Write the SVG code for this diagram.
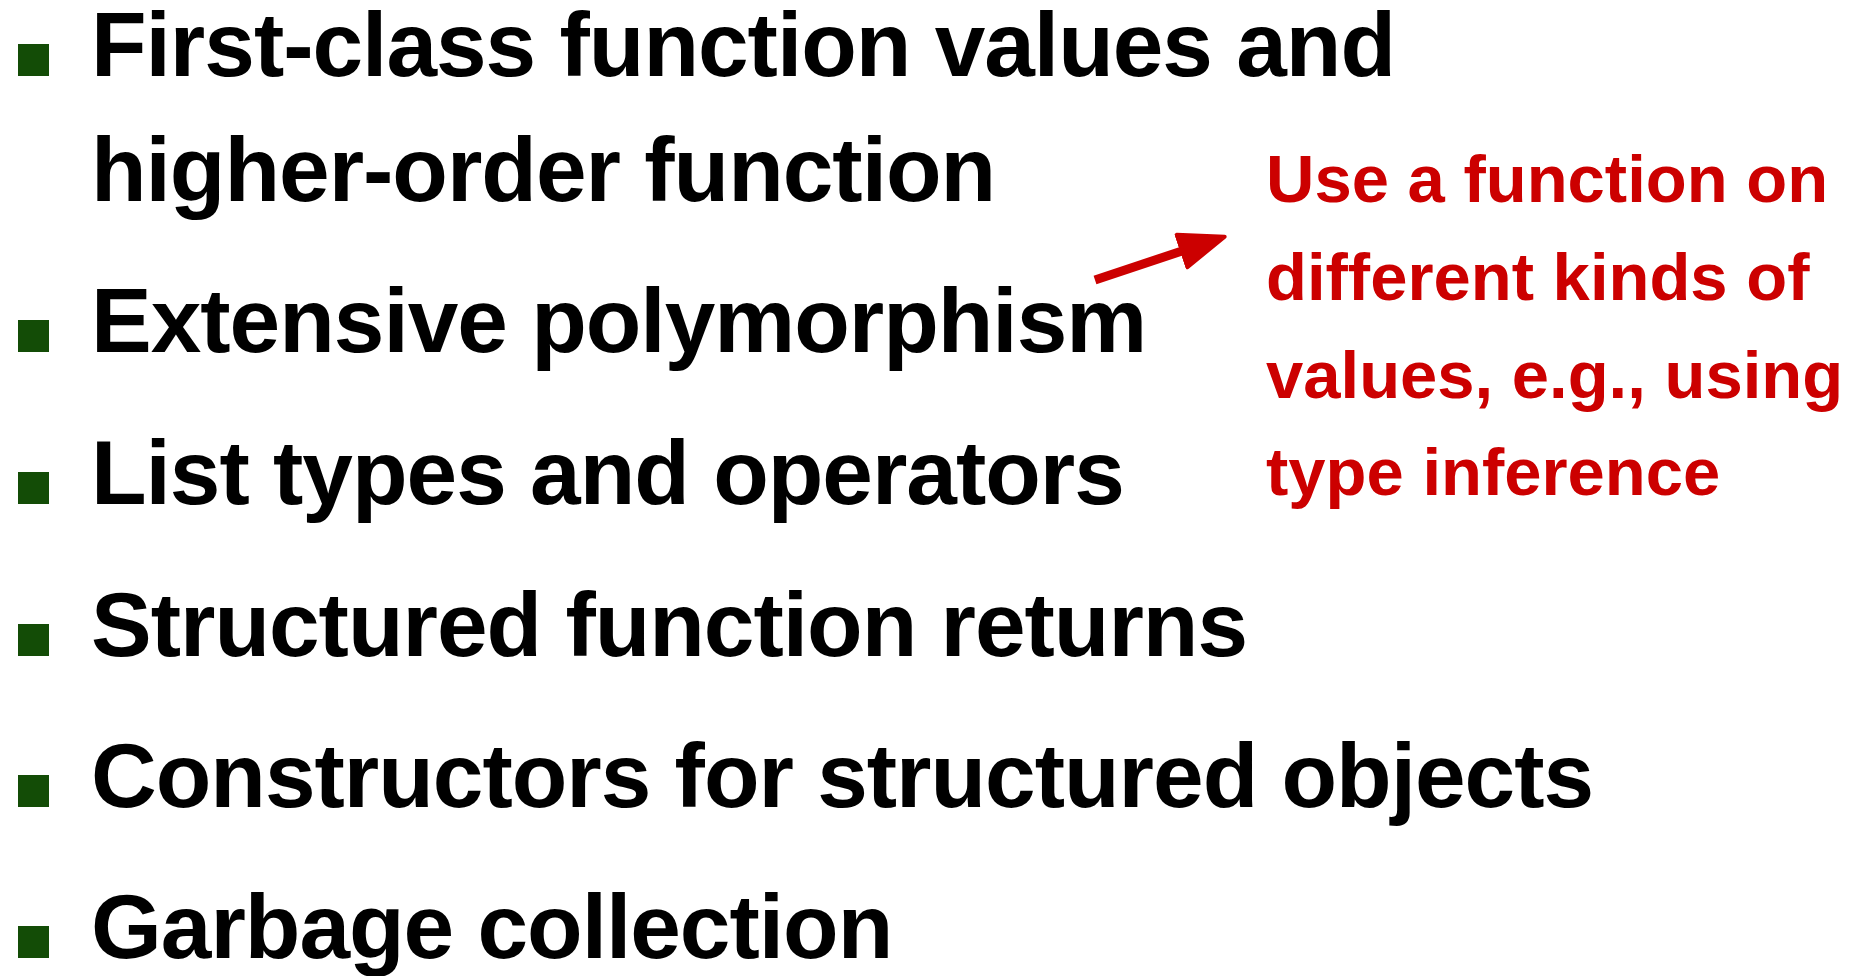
<svg xmlns="http://www.w3.org/2000/svg" width="1859" height="976" viewBox="0 0 1859 976">
  <style>
    .item { font-family: "Liberation Sans", Arial, Helvetica, sans-serif; font-weight: bold; font-size: 91px; letter-spacing: -1px; fill: #000000; }
    .note { font-family: "Liberation Sans", Arial, Helvetica, sans-serif; font-weight: bold; font-size: 67px; fill: #cc0000; }
    .bullet { fill: #134c06; }
  </style>
  <defs>
    <marker id="arrowhead" markerUnits="userSpaceOnUse" markerWidth="60" markerHeight="50" refX="2" refY="20" orient="auto">
      <polygon points="2,3 47,20 2,37" fill="#cc0000" stroke="#cc0000" stroke-width="4" stroke-linejoin="round"/>
    </marker>
  </defs>
  <rect width="1859" height="976" fill="#ffffff"/>

  <g id="item1">
    <rect class="bullet" x="18" y="44" width="31" height="32"/>
    <text class="item" x="91" y="76">First-class function values and</text>
    <text class="item" x="91" y="201">higher-order function</text>
  </g>
  <g id="item2">
    <rect class="bullet" x="18" y="320" width="31" height="32"/>
    <text class="item" x="91" y="352">Extensive polymorphism</text>
  </g>
  <g id="item3">
    <rect class="bullet" x="18" y="472" width="31" height="32"/>
    <text class="item" x="91" y="504">List types and operators</text>
  </g>
  <g id="item4">
    <rect class="bullet" x="18" y="624" width="31" height="32"/>
    <text class="item" x="91" y="656">Structured function returns</text>
  </g>
  <g id="item5">
    <rect class="bullet" x="18" y="775" width="31" height="32"/>
    <text class="item" x="91" y="807">Constructors for structured objects</text>
  </g>
  <g id="item6">
    <rect class="bullet" x="18" y="926" width="31" height="32"/>
    <text class="item" x="91" y="958">Garbage collection</text>
  </g>

  <g id="note">
    <text class="note" x="1266" y="202">Use a function on</text>
    <text class="note" x="1266" y="300">different kinds of</text>
    <text class="note" x="1266" y="398">values, e.g., using</text>
    <text class="note" x="1266" y="495">type inference</text>
  </g>

  <g id="connectors">
    <line x1="1095" y1="280" x2="1182" y2="251" stroke="#cc0000" stroke-width="9" marker-end="url(#arrowhead)"/>
  </g>
</svg>
